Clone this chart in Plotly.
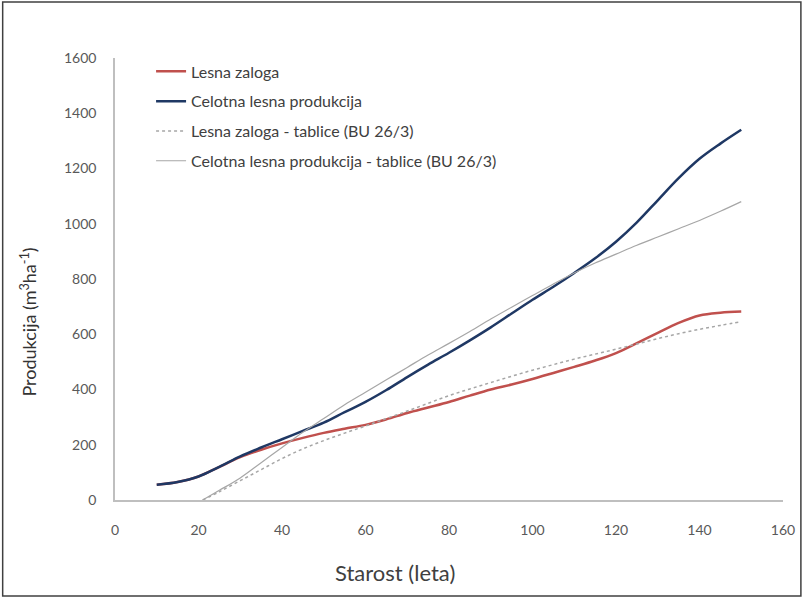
import plotly.graph_objects as go

# Measured series (age in years)
age = [10, 15, 20, 25, 30, 35, 40, 45, 50, 55, 60, 65, 70, 75, 80, 85, 90,
       95, 100, 105, 110, 115, 120, 125, 130, 135, 140, 145, 150]
lesna_zaloga = [55, 65, 85, 120, 155, 182, 205, 225, 243, 258, 272, 292, 315,
                335, 355, 378, 400, 418, 438, 460, 482, 505, 532, 568, 605,
                641, 668, 678, 682]
celotna = [55, 65, 85, 120, 158, 190, 220, 250, 280, 318, 355, 398, 445, 490,
           533, 578, 625, 675, 725, 772, 822, 875, 935, 1005, 1085, 1165, 1235,
           1290, 1340]

# Yield table series (BU 26/3)
age_t = [21, 25, 30, 35, 40, 45, 50, 55, 60, 65, 70, 75, 80, 85, 90, 95, 100,
         105, 110, 115, 120, 125, 130, 135, 140, 145, 150]
zaloga_tab = [0, 30, 70, 110, 150, 185, 215, 242, 268, 295, 322, 350, 378,
              402, 425, 448, 470, 490, 510, 528, 546, 565, 584, 602, 618, 632,
              645]
celotna_tab = [0, 35, 80, 135, 190, 245, 295, 345, 390, 435, 480, 525, 567,
               610, 655, 698, 740, 782, 822, 858, 890, 922, 952, 982, 1012,
               1045, 1080]

names = ["Lesna zaloga", "Celotna lesna produkcija",
         "Lesna zaloga - tablice (BU 26/3)",
         "Celotna lesna produkcija - tablice (BU 26/3)"]

x_ticks = [0, 20, 40, 60, 80, 100, 120, 140, 160]
y_ticks = [0, 200, 400, 600, 800, 1000, 1200, 1400, 1600]

x_title = "Starost (leta)"
y_title = "Produkcija (m<sup>3</sup>ha<sup>-1</sup>)"

FONT = "Lato, 'Open Sans', sans-serif"

fig = go.Figure()
fig.add_trace(go.Scatter(x=age, y=lesna_zaloga, mode="lines", name=names[0],
                         legendgroup="a",
                         line=dict(color="#C0504D", width=2.5, shape="spline")))
fig.add_trace(go.Scatter(x=age, y=celotna, mode="lines", name=names[1],
                         legendgroup="b",
                         line=dict(color="#1F3864", width=2.5, shape="spline")))
fig.add_trace(go.Scatter(x=age_t, y=zaloga_tab, mode="lines", name=names[2],
                         legendgroup="c",
                         line=dict(color="#A6A6A6", width=1.5, dash="dot",
                                   shape="spline")))
fig.add_trace(go.Scatter(x=age_t, y=celotna_tab, mode="lines", name=names[3],
                         legendgroup="d",
                         line=dict(color="#A6A6A6", width=1.2, shape="spline")))

pw = 807 - 115 - 20
ph = 598 - 58 - 98

fig.update_layout(
    width=807, height=598,
    margin=dict(l=115, r=20, t=58, b=98),
    paper_bgcolor="white", plot_bgcolor="white",
    font=dict(family=FONT, color="#404040"),
    showlegend=True,
    legend=dict(x=0.054, y=1.008, xanchor="left", yanchor="top",
                bgcolor="rgba(0,0,0,0)", tracegroupgap=6,
                font=dict(size=16, color="#404040", family=FONT)),
    xaxis=dict(range=[0, 160], tickvals=x_ticks, showgrid=False,
               zeroline=False, showline=True, linecolor="#BFBFBF",
               linewidth=1.5, ticks="", ticklabelstandoff=16,
               tickfont=dict(size=14, color="#595959", family=FONT)),
    yaxis=dict(range=[0, 1600], tickvals=y_ticks, showgrid=False,
               zeroline=False, showline=True, linecolor="#BFBFBF",
               linewidth=1.5, ticks="", ticklabelstandoff=14,
               tickfont=dict(size=14, color="#595959", family=FONT)),
    annotations=[
        dict(text=x_title, xref="paper", yref="paper",
             x=(397 - 115) / pw, y=(500 - 572) / ph,
             xanchor="center", yanchor="middle", showarrow=False,
             font=dict(size=22, color="#404040", family=FONT)),
        dict(text=y_title, xref="paper", yref="paper",
             x=(28 - 115) / pw, y=(500 - 322) / ph, textangle=-90,
             xanchor="center", yanchor="middle", showarrow=False,
             font=dict(size=18, color="#333333", family=FONT)),
    ],
    shapes=[dict(type="rect", xref="paper", yref="paper",
                 x0=(2 - 115) / pw, x1=(805 - 115) / pw,
                 y0=(500 - 596) / ph, y1=(500 - 2) / ph,
                 line=dict(color="#404040", width=1.5))],
)

fig.write_html("out.html", config={"displayModeBar": False},
               post_script="document.body.style.margin='0px';")
